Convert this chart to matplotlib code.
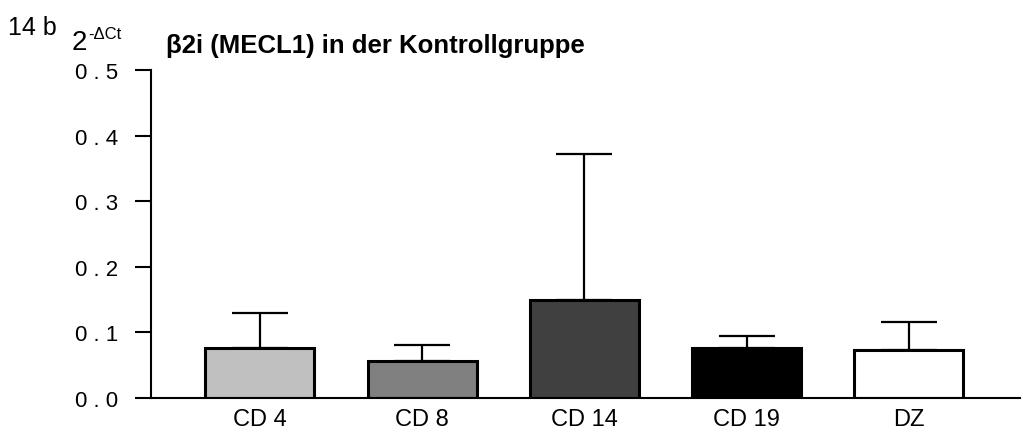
import numpy as np
import matplotlib
matplotlib.use("Agg")
import matplotlib.pyplot as plt

plt.rcParams['font.family'] = ['Liberation Sans', 'DejaVu Sans']

# data
categories = ["CD 4", "CD 8", "CD 14", "CD 19", "DZ"]
means = [0.076, 0.056, 0.149, 0.076, 0.073]
upper = [0.130, 0.081, 0.372, 0.095, 0.116]   # top of error bars
colors = ["#c0c0c0", "#808080", "#404040", "#000000", "#ffffff"]
yticks = [0.0, 0.1, 0.2, 0.3, 0.4, 0.5]
ytick_labels = ["0 . 0", "0 . 1", "0 . 2", "0 . 3", "0 . 4", "0 . 5"]

W, H = 1023, 435
fig = plt.figure(figsize=(W / 100, H / 100), dpi=100)
ax = fig.add_axes([151 / W, (H - 399) / H, (1020 - 151) / W, (399 - 71) / H])

x = np.arange(len(categories))
err = np.array(upper) - np.array(means)

# error bars (upper only)
ax.errorbar(x, means, yerr=[np.zeros(len(x)), err], fmt="none",
            ecolor="black", elinewidth=1.6, capsize=20, capthick=1.6, zorder=1)
ax.bar(x, means, width=0.672, color=colors, edgecolor="black",
       linewidth=2.2, zorder=2)

ax.set_xlim(-0.672, 4.686)
ax.set_ylim(0, 0.5)
ax.set_yticks(yticks)
ax.set_yticklabels(ytick_labels, fontsize=16)
ax.set_xticks(x)
ax.set_xticklabels(categories, fontsize=17)

ax.spines["top"].set_visible(False)
ax.spines["right"].set_visible(False)
ax.spines["left"].set_linewidth(1.5)
ax.spines["bottom"].set_linewidth(1.5)
ax.tick_params(axis="y", length=11.5, width=1.5, pad=12)
ax.tick_params(axis="x", length=0, pad=7)

fig.text(8 / W, 1 - 35 / H, "14 b", fontsize=18, va="baseline", ha="left")
fig.text(72 / W, 1 - 50 / H, "2", fontsize=20, va="baseline", ha="left")
fig.text(88 / W, 1 - 39 / H, "-ΔCt", fontsize=12, va="baseline", ha="left")
fig.text(166 / W, 1 - 53 / H, "β2i (MECL1) in der Kontrollgruppe",
         fontsize=18.5, fontweight="bold", va="baseline", ha="left")

fig.savefig("out.png", dpi=100)
